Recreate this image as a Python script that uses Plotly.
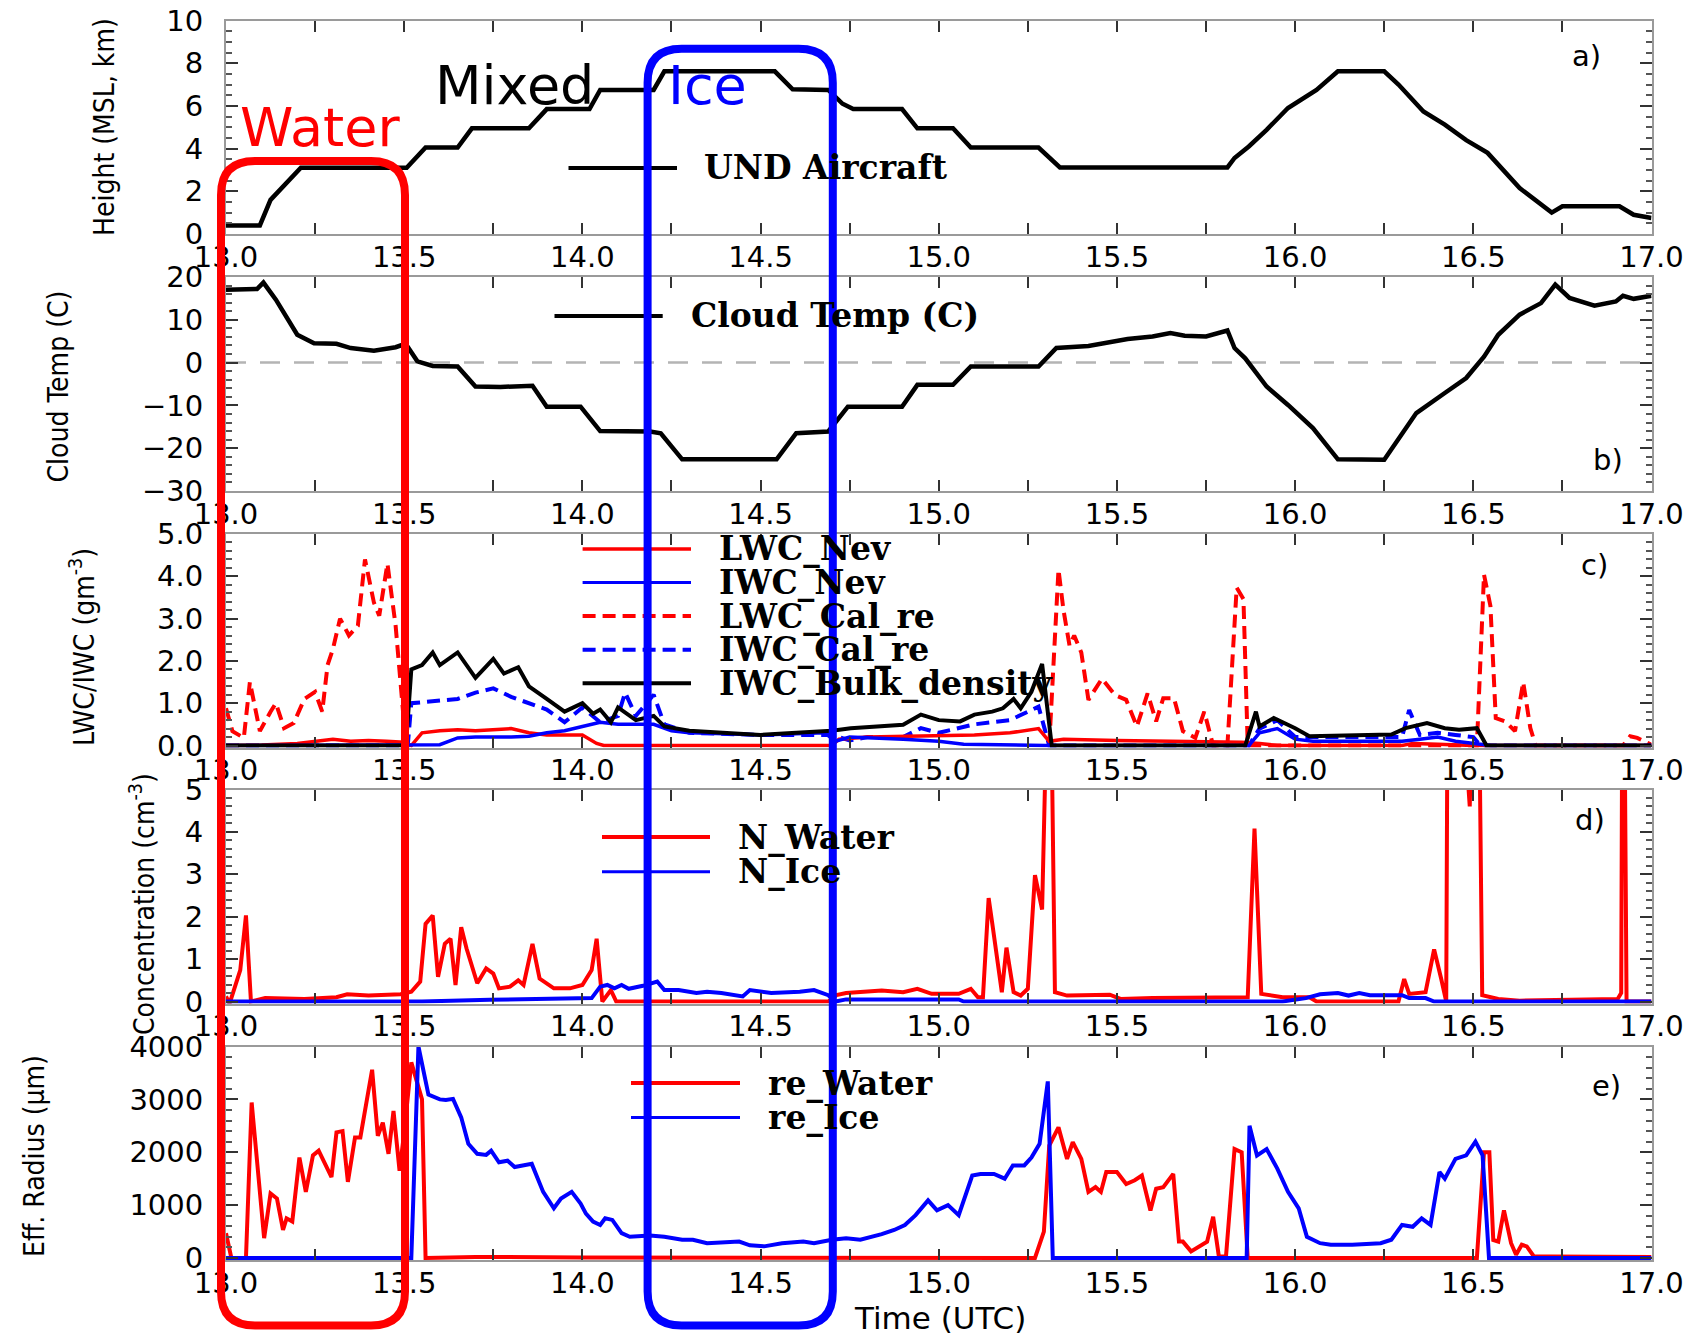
import subprocess
import plotly.graph_objects as go

# ---------------- data ----------------
# a) aircraft height (km MSL)
t_height = [13.0, 13.095, 13.125, 13.156, 13.21, 13.507, 13.537, 13.56, 13.65, 13.69, 13.85, 13.9, 14.02, 14.05,
            14.2, 14.23, 14.54, 14.59, 14.69, 14.73, 14.76, 14.897, 14.94, 15.04, 15.09, 15.28, 15.34, 15.81, 15.83,
            15.87, 15.92, 15.98, 16.06, 16.12, 16.25, 16.29, 16.36, 16.42, 16.48, 16.54, 16.63, 16.72, 16.75, 16.91,
            16.95, 17.0]
height = [0.4, 0.4, 1.6, 2.15, 3.1, 3.1, 3.6, 4.05, 4.05, 4.95, 4.95, 5.85, 5.85, 6.75, 6.75, 7.62, 7.62, 6.78,
          6.75, 6.1, 5.85, 5.85, 4.95, 4.95, 4.05, 4.05, 3.12, 3.12, 3.56, 4.1, 4.88, 5.9, 6.75, 7.62, 7.62, 7.0,
          5.74, 5.12, 4.4, 3.8, 2.15, 1.0, 1.3, 1.3, 0.9, 0.75]

# b) cloud temperature (C)
t_temp = [13.0, 13.087, 13.105, 13.14, 13.2, 13.247, 13.31, 13.35, 13.415, 13.476, 13.504, 13.537, 13.58, 13.65,
          13.70, 13.77, 13.86, 13.9, 13.995, 14.05, 14.19, 14.22, 14.28, 14.545, 14.6, 14.69, 14.745, 14.897, 14.94,
          15.04, 15.09, 15.28, 15.33, 15.42, 15.53, 15.60, 15.65, 15.69, 15.75, 15.81, 15.83, 15.86, 15.92, 15.98,
          16.05, 16.12, 16.25, 16.34, 16.42, 16.48, 16.53, 16.57, 16.63, 16.69, 16.73, 16.77, 16.84, 16.90, 16.92,
          16.95, 17.0]
temp = [17.0, 17.2, 18.7, 14.7, 6.5, 4.5, 4.4, 3.4, 2.8, 3.6, 4.4, 0.3, -0.8, -0.9, -5.6, -5.7, -5.4, -10.3, -10.3,
        -16.0, -16.1, -16.5, -22.6, -22.6, -16.5, -16.1, -10.3, -10.3, -5.2, -5.2, -0.9, -0.9, 3.4, 3.9, 5.5, 6.1,
        6.9, 6.3, 6.1, 7.5, 3.4, 1.0, -5.6, -9.9, -15.3, -22.6, -22.7, -11.8, -7.1, -3.6, 1.4, 6.5, 11.2, 13.9,
        18.2, 15.1, 13.3, 14.3, 15.6, 14.9, 15.6]

# c) LWC / IWC (g m-3)
t_lwc_cal = [13.0, 13.018, 13.05, 13.067, 13.08, 13.095, 13.125, 13.14, 13.163, 13.19, 13.22, 13.25, 13.27, 13.285,
             13.30, 13.32, 13.345, 13.37, 13.39, 13.415, 13.43, 13.453, 13.476, 13.49, 13.505, 14.5, 15.31, 15.336,
             15.35, 15.367, 15.38, 15.4, 15.42, 15.458, 15.495, 15.526, 15.556, 15.586, 15.61, 15.63, 15.66, 15.685,
             15.72, 15.745, 15.77, 15.81, 15.836, 15.855, 15.867, 16.51, 16.53, 16.548, 16.563, 16.59, 16.617, 16.64,
             16.66, 16.675, 16.92, 16.94, 16.96, 17.0]
lwc_cal = [0.88, 0.34, 0.18, 1.5, 0.96, 0.34, 0.8, 1.0, 0.41, 0.53, 1.1, 1.27, 0.8, 1.9, 2.28, 3.0, 2.6, 2.83, 4.4,
           3.38, 3.07, 4.3, 2.83, 1.43, 0.0, None, 0.0, 4.16, 3.2, 2.36, 2.6, 2.2, 1.08, 1.58, 1.19, 1.08, 0.45, 1.23,
           0.57, 1.12, 1.12, 0.34, 0.18, 0.8, 0.0, 0.0, 3.73, 3.46, 0.0, 0.0, 4.04, 3.3, 0.65, 0.57, 0.34, 1.5, 0.41,
           0.0, 0.0, 0.22, 0.18, 0.02]

t_lwc_nev = [13.0, 13.1, 13.2, 13.25, 13.3, 13.35, 13.4, 13.45, 13.5, 13.52, 13.55, 13.6, 13.65, 13.7, 13.75, 13.8,
             13.85, 13.9, 13.95, 14.0, 14.04, 14.06, 14.7, 14.72, 14.8, 14.9, 15.0, 15.1, 15.2, 15.28, 15.31, 15.35,
             15.5, 15.7, 15.85, 15.9, 15.95, 16.3, 16.33, 16.4, 16.5, 17.0]
lwc_nev = [0.0, 0.01, 0.05, 0.1, 0.15, 0.1, 0.12, 0.1, 0.08, 0.0, 0.3, 0.35, 0.37, 0.35, 0.37, 0.4, 0.3, 0.25, 0.25,
           0.25, 0.05, 0.0, 0.0, 0.15, 0.2, 0.22, 0.25, 0.25, 0.3, 0.4, 0.1, 0.15, 0.12, 0.1, 0.08, 0.05, 0.0, 0.0,
           0.05, 0.03, 0.0, 0.0]

t_iwc_nev = [13.0, 13.52, 13.6, 13.65, 13.7, 13.8, 13.85, 13.9, 13.95, 14.0, 14.05, 14.1, 14.2, 14.25, 14.3, 14.4,
             14.5, 14.6, 14.68, 14.71, 14.75, 14.9, 15.0, 15.07, 15.3, 15.87, 15.9, 15.95, 16.0, 16.05, 16.3, 16.35,
             16.4, 16.45, 16.5, 16.55, 17.0]
iwc_nev = [0.0, 0.0, 0.02, 0.18, 0.2, 0.2, 0.22, 0.3, 0.35, 0.45, 0.55, 0.5, 0.5, 0.35, 0.3, 0.28, 0.25, 0.28, 0.3,
           0.1, 0.2, 0.15, 0.1, 0.03, 0.0, 0.0, 0.3, 0.4, 0.15, 0.1, 0.1, 0.15, 0.2, 0.1, 0.05, 0.0, 0.0]

t_iwc_cal = [13.0, 13.51, 13.52, 13.6, 13.65, 13.7, 13.75, 13.8, 13.85, 13.9, 13.95, 14.0, 14.05, 14.1, 14.12, 14.15,
             14.2, 14.23, 14.3, 14.5, 14.7, 14.75, 14.8, 14.9, 14.95, 15.0, 15.1, 15.2, 15.28, 15.31, 15.87, 15.9,
             15.95, 16.0, 16.3, 16.32, 16.35, 16.4, 16.45, 16.5, 16.52, 17.0]
iwc_cal = [0.0, 0.0, 1.0, 1.05, 1.1, 1.25, 1.35, 1.15, 1.0, 0.85, 0.55, 0.9, 0.55, 0.7, 1.25, 0.7, 1.2, 0.5, 0.3,
           0.25, 0.25, 0.12, 0.2, 0.2, 0.41, 0.3, 0.5, 0.6, 0.92, 0.0, 0.0, 0.4, 0.6, 0.2, 0.2, 0.84, 0.25, 0.3,
           0.25, 0.2, 0.0, 0.0]

t_bulk = [13.0, 13.505, 13.52, 13.55, 13.58, 13.6, 13.65, 13.7, 13.75, 13.78, 13.82, 13.85, 13.9, 13.95, 14.0, 14.03,
          14.05, 14.08, 14.1, 14.15, 14.2, 14.23, 14.3, 14.4, 14.5, 14.6, 14.7, 14.753, 14.9, 14.95, 15.0, 15.06,
          15.1, 15.15, 15.18, 15.21, 15.23, 15.26, 15.29, 15.317, 15.86, 15.89, 15.9, 15.94, 16.0, 16.04, 16.27,
          16.31, 16.37, 16.42, 16.46, 16.51, 16.537, 17.0]
bulk = [0.0, 0.0, 1.8, 1.9, 2.2, 1.9, 2.2, 1.6, 2.05, 1.7, 1.85, 1.4, 1.1, 0.8, 1.0, 0.75, 0.85, 0.55, 0.9, 0.6,
        0.7, 0.45, 0.35, 0.3, 0.25, 0.3, 0.35, 0.41, 0.49, 0.73, 0.6, 0.57, 0.73, 0.8, 0.88, 1.1, 0.88, 1.27, 1.93,
        0.0, 0.0, 0.8, 0.45, 0.65, 0.41, 0.22, 0.26, 0.41, 0.53, 0.41, 0.37, 0.41, 0.0, 0.0]

# d) number concentration (cm-3)
t_nw = [13.0, 13.01, 13.04, 13.056, 13.07, 13.11, 13.22, 13.31, 13.34, 13.4, 13.49, 13.52, 13.545, 13.56, 13.58,
        13.595, 13.614, 13.63, 13.644, 13.66, 13.675, 13.705, 13.73, 13.75, 13.766, 13.797, 13.82, 13.835, 13.86,
        13.88, 13.92, 13.965, 14.0, 14.026, 14.04, 14.056, 14.08, 14.095, 14.69, 14.713, 14.74, 14.78, 14.84, 14.9,
        14.94, 14.98, 15.056, 15.09, 15.11, 15.124, 15.14, 15.15, 15.177, 15.19, 15.21, 15.23, 15.25, 15.27, 15.29,
        15.306, 15.314, 15.326, 15.36, 15.48, 15.51, 15.6, 15.81, 15.867, 15.886, 15.905, 15.965, 16.04, 16.06,
        16.29, 16.306, 16.32, 16.366, 16.39, 16.41, 16.424, 16.43, 16.49, 16.51, 16.525, 16.57, 16.63, 16.905,
        16.915, 16.92, 16.93, 17.0]
n_water = [0.12, -0.05, 0.74, 2.03, 0.0, 0.08, 0.06, 0.1, 0.17, 0.14, 0.17, 0.23, 0.47, 1.83, 2.03, 0.58, 1.36,
           1.48, 0.39, 1.75, 1.25, 0.43, 0.78, 0.66, 0.31, 0.35, 0.5, 0.39, 1.36, 0.54, 0.31, 0.31, 0.39, 0.74, 1.48,
           0.0, 0.27, 0.0, 0.0, 0.15, 0.2, 0.22, 0.26, 0.22, 0.3, 0.18, 0.18, 0.3, 0.1, 0.1, 2.44, 1.85, 0.22, 1.27,
           0.22, 0.14, 0.3, 2.98, 2.17, 8.0, 8.0, 0.22, 0.14, 0.16, 0.06, 0.08, 0.08, 0.1, 4.08, 0.18, 0.1, 0.1, 0.0,
           0.0, 0.53, 0.18, 0.22, 1.23, 0.53, 0.0, 12.0, 4.6, 12.0, 0.15, 0.06, 0.02, 0.06, 0.2, 12.0, 0.0, 0.0]

t_ni = [13.0, 13.55, 13.74, 13.9, 14.026, 14.05, 14.07, 14.09, 14.11, 14.13, 14.17, 14.21, 14.23, 14.27, 14.32,
        14.35, 14.39, 14.45, 14.47, 14.53, 14.61, 14.65, 14.69, 14.71, 14.74, 15.056, 15.07, 15.3, 15.965, 16.03,
        16.07, 16.12, 16.15, 16.18, 16.21, 16.3, 16.32, 16.366, 16.39, 17.0]
n_ice = [0.0, 0.0, 0.04, 0.05, 0.08, 0.35, 0.39, 0.31, 0.39, 0.3, 0.37, 0.47, 0.27, 0.27, 0.2, 0.23, 0.2, 0.12,
         0.27, 0.2, 0.23, 0.27, 0.15, 0.0, 0.05, 0.05, 0.0, 0.0, 0.0, 0.08, 0.17, 0.2, 0.14, 0.2, 0.15, 0.15, 0.08,
         0.08, 0.0, 0.0]

# e) effective radius (um)
t_rw = [13.0, 13.015, 13.056, 13.072, 13.107, 13.125, 13.143, 13.16, 13.17, 13.186, 13.206, 13.224, 13.244, 13.26,
        13.296, 13.31, 13.327, 13.342, 13.362, 13.377, 13.41, 13.426, 13.44, 13.456, 13.47, 13.487, 13.5, 13.52,
        13.55, 13.56, 13.7, 14.0, 15.27, 15.295, 15.31, 15.336, 15.36, 15.376, 15.4, 15.42, 15.44, 15.455, 15.47,
        15.5, 15.526, 15.55, 15.57, 15.594, 15.61, 15.63, 15.658, 15.674, 15.685, 15.708, 15.753, 15.77, 15.786,
        15.806, 15.83, 15.85, 15.867, 16.51, 16.53, 16.545, 16.556, 16.57, 16.586, 16.606, 16.62, 16.636, 16.65,
        16.67, 16.72, 17.0]
re_water = [470, 0, 0, 2940, 375, 1220, 1125, 530, 750, 690, 1900, 1250, 1940, 2030, 1530, 2375, 2400, 1440, 2280,
            2280, 3560, 2310, 2560, 1970, 2780, 1650, 2375, 3700, 3000, 0, 20, 10, 0, 500, 2125, 2470, 1875, 2190,
            1875, 1250, 1340, 1250, 1625, 1625, 1400, 1470, 1560, 900, 1310, 1340, 1590, 310, 310, 125, 310, 780,
            30, 30, 2060, 2000, 0, 0, 2000, 2000, 340, 310, 900, 280, 60, 250, 220, 30, 30, 20]

t_ri = [13.0, 13.52, 13.54, 13.568, 13.6, 13.617, 13.637, 13.66, 13.68, 13.705, 13.73, 13.744, 13.766, 13.79, 13.81,
        13.835, 13.858, 13.89, 13.92, 13.94, 13.97, 13.995, 14.01, 14.03, 14.05, 14.064, 14.084, 14.11, 14.133,
        14.19, 14.23, 14.28, 14.31, 14.35, 14.41, 14.44, 14.47, 14.51, 14.56, 14.62, 14.65, 14.7, 14.74, 14.78,
        14.84, 14.875, 14.905, 14.935, 14.97, 14.995, 15.026, 15.056, 15.094, 15.117, 15.155, 15.185, 15.208,
        15.24, 15.26, 15.283, 15.306, 15.32, 15.864, 15.872, 15.893, 15.92, 15.95, 15.98, 16.01, 16.033, 16.07,
        16.1, 16.16, 16.24, 16.27, 16.3, 16.33, 16.355, 16.38, 16.405, 16.42, 16.45, 16.48, 16.506, 16.526,
        16.544, 17.0]
re_ice = [0, 0, 4000, 3090, 3000, 2990, 3010, 2660, 2160, 1970, 1950, 2030, 1810, 1840, 1720, 1750, 1780, 1250, 940,
          1125, 1250, 1030, 840, 690, 625, 750, 720, 470, 400, 425, 400, 345, 345, 280, 310, 310, 240, 220, 280, 310,
          280, 345, 375, 345, 450, 530, 625, 810, 1090, 900, 1000, 810, 1560, 1590, 1590, 1500, 1750, 1750, 1900,
          2160, 3340, 0, 0, 2500, 1940, 2060, 1690, 1250, 940, 400, 280, 250, 250, 280, 345, 625, 590, 750, 625,
          1625, 1500, 1875, 1940, 2200, 1940, 0, 0]

x_ticks = [13.0, 13.5, 14.0, 14.5, 15.0, 15.5, 16.0, 16.5, 17.0]
y_titles = ["Height (MSL, km)", "Cloud Temp (C)", "LWC/IWC (gm<sup>-3</sup>)",
            "Concentration (cm<sup>-3</sup>)", "Eff. Radius (\u03bcm)"]
panel_tags = ["a)", "b)", "c)", "d)", "e)"]
legend_a = ["UND Aircraft"]
legend_b = ["Cloud Temp (C)"]
legend_c = ["LWC_Nev", "IWC_Nev", "LWC_Cal_re", "IWC_Cal_re", "IWC_Bulk_density"]
legend_d = ["N_Water", "N_Ice"]
legend_e = ["re_Water", "re_Ice"]

# ---------------- fonts ----------------
try:
    fl = subprocess.run(["fc-list", ":", "family"], capture_output=True, text=True, timeout=20).stdout
except Exception:
    fl = ""
if "Liberation Sans Narrow" in fl:
    TITLE_FONT, TITLE_SIZE = "Liberation Sans Narrow", 33
elif "DejaVu Sans Condensed" in fl:
    TITLE_FONT, TITLE_SIZE = "DejaVu Sans Condensed", 28
else:
    TITLE_FONT, TITLE_SIZE = "Liberation Sans", 27

TICK_FONT = dict(family="DejaVu Sans", size=29, color="black")
LEG_FONT = dict(family="DejaVu Serif", size=33, color="black")

# ---------------- geometry ----------------
W, H = 1698, 1335
def px(x):
    return x / W
def py(y):
    return 1 - y / H

PANEL_TOP = [20.5, 277, 534, 789.5, 1046.5]
PANEL_BOT = [234, 491, 747.5, 1003.5, 1260]
X_LEFT, X_RIGHT = 226, 1651.5

RED, BLUE, BLACK = "#ff0000", "#0000ff", "#000000"

fig = go.Figure()

def ax(i):
    return ("x", "y") if i == 0 else ("x%d" % (i + 1), "y%d" % (i + 1))

def add(i, x, y, color, width, dash=None):
    xa, ya = ax(i)
    fig.add_trace(go.Scatter(x=x, y=y, mode="lines", xaxis=xa, yaxis=ya,
                             line=dict(color=color, width=width, dash=dash),
                             showlegend=False, hoverinfo="skip", connectgaps=False))

DASH = "13px,7px"
add(0, t_height, height, BLACK, 4.5)
add(1, t_temp, temp, BLACK, 4.5)
add(2, t_lwc_cal, lwc_cal, RED, 4, DASH)
add(2, t_iwc_cal, iwc_cal, BLUE, 4, DASH)
add(2, t_lwc_nev, lwc_nev, RED, 3.5)
add(2, t_iwc_nev, iwc_nev, BLUE, 3.5)
add(2, t_bulk, bulk, BLACK, 4)
add(3, t_nw, n_water, RED, 4)
add(3, t_ni, n_ice, BLUE, 4)
add(4, t_rw, re_water, RED, 4)
add(4, t_ri, re_ice, BLUE, 4)

layout = dict(width=W, height=H, margin=dict(l=0, r=0, t=0, b=0, pad=0, autoexpand=False),
              paper_bgcolor="white", plot_bgcolor="white", showlegend=False,
              font=dict(family="DejaVu Sans", size=29, color="black"))

y_specs = [
    dict(range=[0, 10], dtick=2, minor=0.5, fmt="d"),
    dict(range=[-30, 20], dtick=10, minor=2, fmt="d"),
    dict(range=[-0.047, 5], dtick=1, minor=0.2, fmt=".1f"),
    dict(range=[-0.047, 5], dtick=1, minor=0.2, fmt="d"),
    dict(range=[-38, 4000], dtick=1000, minor=200, fmt="d"),
]

for i in range(5):
    sfx = "" if i == 0 else str(i + 1)
    layout["xaxis" + sfx] = dict(
        domain=[px(X_LEFT), px(X_RIGHT)], anchor="y" + sfx, range=[13, 17], automargin=False,
        tickvals=x_ticks, tickformat=".1f", ticks="inside", ticklen=11, tickwidth=2, tickcolor="#333",
        showline=True, linecolor="#9a9a9a", linewidth=2, mirror="ticks",
        minor=dict(dtick=0.25, tick0=13, ticks="inside", ticklen=11, tickwidth=2, tickcolor="#333"),
        showgrid=False, zeroline=False, ticklabelstandoff=-4, tickfont=TICK_FONT)
    s = y_specs[i]
    layout["yaxis" + sfx] = dict(
        domain=[py(PANEL_BOT[i]), py(PANEL_TOP[i])], anchor="x" + sfx, range=s["range"], automargin=False,
        tick0=0, dtick=s["dtick"], tickformat=s["fmt"], ticks="inside", ticklen=12, tickwidth=2,
        tickcolor="#333", showline=True, linecolor="#9a9a9a", linewidth=2, mirror="ticks",
        minor=dict(dtick=s["minor"], tick0=0, ticks="inside", ticklen=6, tickwidth=1.5, tickcolor="#555"),
        showgrid=False, zeroline=False, ticklabelstandoff=15, tickfont=TICK_FONT)

shapes = []
annotations = []

# zero reference line in panel b
shapes.append(dict(type="line", xref="x2 domain", yref="y2", x0=0, x1=1, y0=0, y1=0,
                   line=dict(color="#b4b4b4", width=2.5, dash="20px,14px"), layer="below"))

# y-axis titles
title_pos = [(104, 127), (58.5, 387), (82, 647), (142, 904), (34, 1156)]
for txt, (tx, ty) in zip(y_titles, title_pos):
    annotations.append(dict(text=txt, x=px(tx), y=py(ty), xref="paper", yref="paper", showarrow=False,
                            textangle=-90, xanchor="center", yanchor="middle",
                            font=dict(family=TITLE_FONT, size=TITLE_SIZE, color="black")))

# x-axis title
annotations.append(dict(text="Time (UTC)", x=px(940), y=py(1318), xref="paper", yref="paper", showarrow=False,
                        xanchor="center", yanchor="middle", font=dict(family="DejaVu Sans", size=31, color="black")))

# panel tags
tag_pos = [(1586, 56), (1608, 460), (1594, 565), (1590, 820), (1606, 1086)]
for txt, (tx, ty) in zip(panel_tags, tag_pos):
    annotations.append(dict(text=txt, x=px(tx), y=py(ty), xref="paper", yref="paper", showarrow=False,
                            xanchor="center", yanchor="middle", font=TICK_FONT))

# in-panel legends (line samples + bold serif labels)
def legend(names, styles, x0, x1, xt, ys):
    for name, (color, dash, width), yy in zip(names, styles, ys):
        shapes.append(dict(type="line", xref="paper", yref="paper", x0=px(x0), x1=px(x1), y0=py(yy), y1=py(yy),
                           line=dict(color=color, width=width, dash=dash)))
        annotations.append(dict(text="<b>%s</b>" % name, x=px(xt), y=py(yy), xref="paper", yref="paper",
                                showarrow=False, xanchor="left", yanchor="middle", font=LEG_FONT))

legend(legend_a, [(BLACK, "solid", 4)], 568.5, 677, 702, [168])
legend(legend_b, [(BLACK, "solid", 4)], 554.5, 662.7, 689, [316])
legend(legend_c, [(RED, "solid", 3.5), (BLUE, "solid", 3), (RED, DASH, 4), (BLUE, DASH, 4), (BLACK, "solid", 4)],
       582.6, 691, 717, [549, 582.6, 616, 649.7, 683.3])
legend(legend_d, [(RED, "solid", 4), (BLUE, "solid", 3)], 602, 710, 736, [837, 871.7])
legend(legend_e, [(RED, "solid", 4), (BLUE, "solid", 3)], 631, 740, 765.6, [1083, 1117.5])

# regime boxes (rounded rectangles) and their labels
def rounded_rect(x0, y0, x1, y1, r, color):
    X0, X1 = px(x0), px(x1)
    Y0, Y1 = py(y0), py(y1)
    rx, ry = r / W, r / H
    path = ("M {a},{Y0} L {b},{Y0} Q {X1},{Y0} {X1},{c} L {X1},{d} Q {X1},{Y1} {b},{Y1} "
            "L {a},{Y1} Q {X0},{Y1} {X0},{d} L {X0},{c} Q {X0},{Y0} {a},{Y0} Z").format(
        a=X0 + rx, b=X1 - rx, c=Y0 - ry, d=Y1 + ry, X0=X0, X1=X1, Y0=Y0, Y1=Y1)
    shapes.append(dict(type="path", path=path, xref="paper", yref="paper",
                       line=dict(color=color, width=8), fillcolor="rgba(0,0,0,0)", layer="above"))

rounded_rect(221, 161, 405, 1325.5, 34, RED)
rounded_rect(647.6, 48.7, 832.8, 1325.5, 34, BLUE)

for txt, color, (tx, ty) in [("Water", RED, (238, 128)), ("Mixed", BLACK, (433, 85)), ("Ice", BLUE, (666, 85))]:
    annotations.append(dict(text=txt, x=px(tx), y=py(ty), xref="paper", yref="paper", showarrow=False,
                            xanchor="left", yanchor="middle",
                            font=dict(family="DejaVu Sans", size=54, color=color)))

layout["shapes"] = shapes
layout["annotations"] = annotations
fig.update_layout(layout)

fig.write_html("out.html", config={"displayModeBar": False},
               post_script="document.body.style.margin='0px';document.body.style.overflow='hidden';")
